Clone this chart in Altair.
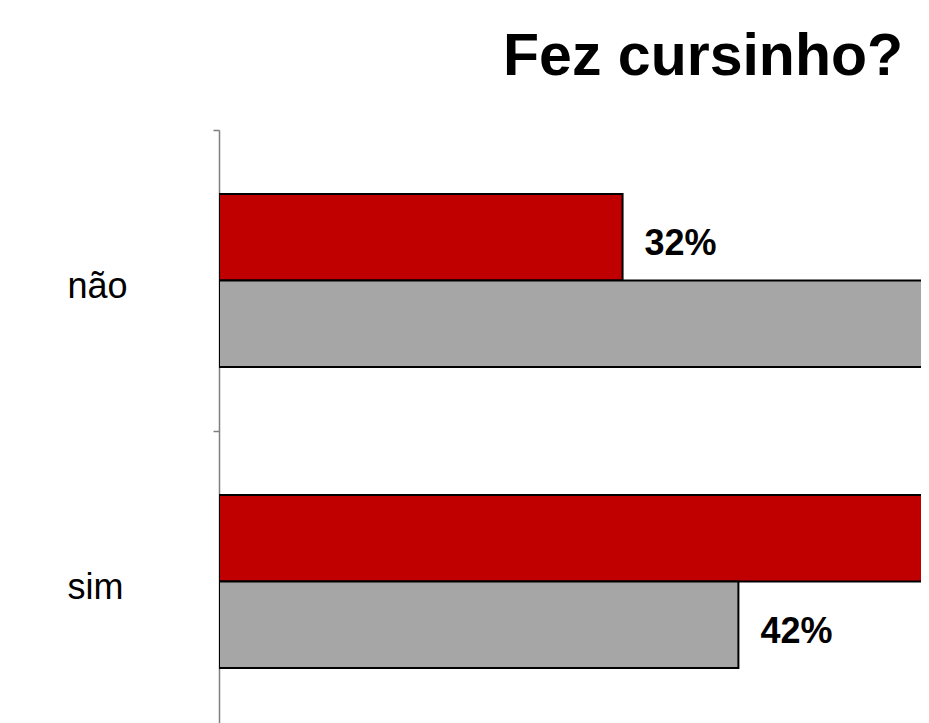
import altair as alt
import pandas as pd

categories = ["não", "sim"]
series = ["Série 1", "Série 2"]
red_values = [32.4, 67.6]
gray_values = [58.3, 41.7]
colors = ["#C00000", "#A6A6A6"]
x_max = 56.36

rows = []
for i, c in enumerate(categories):
    rows.append({"categoria": c, "serie": series[0], "valor": red_values[i]})
    rows.append({"categoria": c, "serie": series[1], "valor": gray_values[i]})
df = pd.DataFrame(rows)
df["label"] = df["valor"].round().astype(int).astype(str) + "%"

FONT = "Liberation Sans"

y_enc = alt.Y(
    "categoria:N",
    sort=categories,
    scale=alt.Scale(domain=categories, range=[0, 602], paddingInner=0, paddingOuter=0),
    axis=alt.Axis(
        title=None,
        bandPosition=0,
        labelOffset=17,
        labelBaseline="alphabetic",
        labelAlign="left",
        labelPadding=146,
        tickSize=6,
        labelFontSize=36,
        labelFont=FONT,
        labelColor="black",
        domainColor="#7F7F7F",
        tickColor="#7F7F7F",
        domainWidth=1.5,
        tickWidth=1.5,
        grid=False,
    ),
)
yoff_enc = alt.YOffset(
    "serie:N", sort=series,
    scale=alt.Scale(domain=series, paddingOuter=0.74, paddingInner=0),
)
x_enc = alt.X("valor:Q", scale=alt.Scale(domain=[0, x_max]), axis=None)

base = alt.Chart(df)

bars = base.mark_bar(stroke="black", strokeWidth=2, clip=True).encode(
    y=y_enc,
    yOffset=yoff_enc,
    x=x_enc,
    color=alt.Color("serie:N", scale=alt.Scale(domain=series, range=colors), legend=None),
)

texts = base.mark_text(
    align="left", baseline="alphabetic", dx=22, dy=18,
    fontSize=36, fontWeight="bold", font=FONT, color="black", clip=True,
).encode(
    y=y_enc,
    yOffset=yoff_enc,
    x=x_enc,
    text="label:N",
).transform_filter(alt.datum.valor < x_max)

chart = (
    alt.layer(bars, texts)
    .properties(
        width=702,
        height=593,
        autosize=alt.AutoSizeParams(type="none"),
        padding={"left": 211, "top": 122, "right": 0, "bottom": 0},
        title=alt.TitleParams(
            "Fez cursinho?",
            anchor="end",
            fontSize=59,
            font=FONT,
            fontWeight="bold",
            color="black",
            baseline="alphabetic",
            offset=-5,
            dx=-18,
        ),
    )
    .configure_view(stroke=None)
)

chart.save("out.html", embed_options={"renderer": "svg", "actions": False})
